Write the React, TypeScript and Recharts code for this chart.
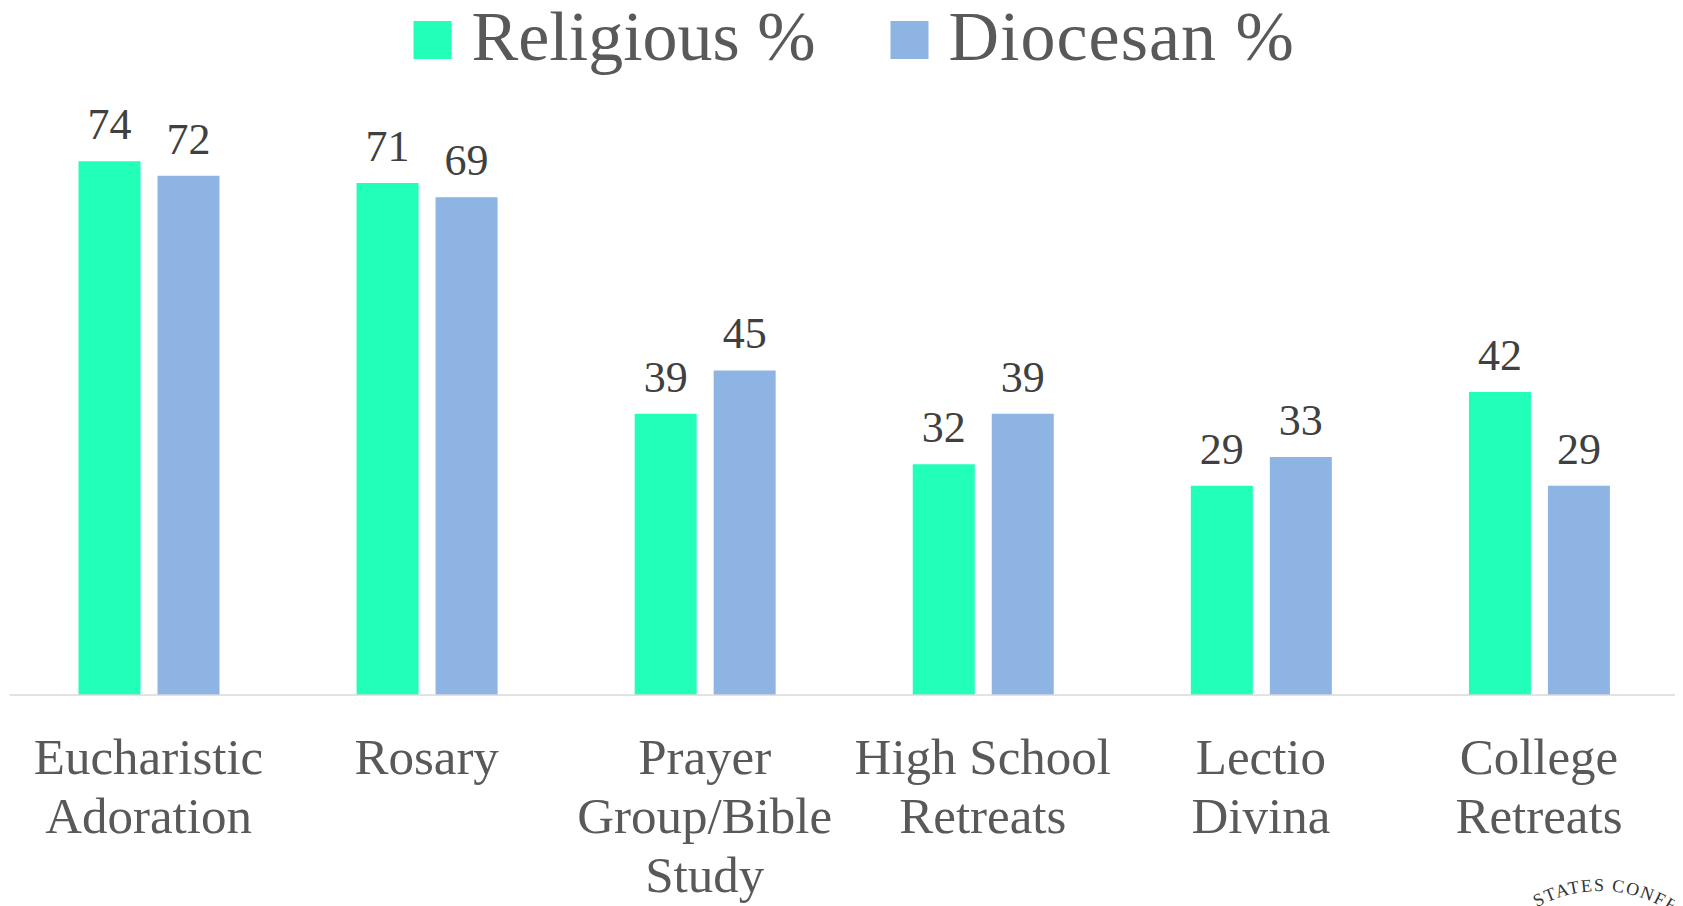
import React from "react";
import { BarChart, Bar, XAxis, YAxis, Legend, LabelList } from "recharts";

const categories = [
  "Eucharistic\nAdoration",
  "Rosary",
  "Prayer\nGroup/Bible\nStudy",
  "High School\nRetreats",
  "Lectio\nDivina",
  "College\nRetreats",
];
const religious = [74, 71, 39, 32, 29, 42];
const diocesan = [72, 69, 45, 39, 33, 29];
const seriesNames = ["Religious %", "Diocesan %"];
const seriesColors = ["#22FFB8", "#8EB4E3"];

const data = categories.map((c, i) => ({
  category: c,
  religious: religious[i],
  diocesan: diocesan[i],
}));

const FONT = "'Liberation Serif', 'Times New Roman', serif";
const W = 1675;
const H = 898;

const CategoryTick = (props: any) => {
  const { x, y, payload } = props;
  const lines = String(payload.value).split("\n");
  return (
    <text x={x} y={y} textAnchor="middle" fill="#595959" fontSize={51} fontFamily={FONT}>
      {lines.map((l, i) => (
        <tspan key={i} x={x} dy={i === 0 ? 79 : 59}>
          {l}
        </tspan>
      ))}
    </text>
  );
};

const LegendContent = () => {
  const squareX = [403.5, 880.5];
  return (
    <svg width={W - 6.5} height={110} style={{ display: "block", overflow: "visible" }}>
      {seriesNames.map((n, i) => (
        <g key={n}>
          <rect x={squareX[i]} y={13} width={38} height={38} fill={seriesColors[i]} />
          <text
            x={squareX[i] + 58}
            y={52}
            fill="#595959"
            fontSize={70}
            fontFamily={FONT}
            letterSpacing={i === 1 ? 1 : 0}
          >
            {n}
          </text>
        </g>
      ))}
    </svg>
  );
};

const Seal = () => {
  const left = 1440;
  const top = 840;
  const cx = 152;
  const cy = 173;
  const r = 130;
  return (
    <svg
      width={W - left}
      height={H - top}
      style={{ position: "absolute", left, top, pointerEvents: "none" }}
    >
      <defs>
        <path id="sealArc" d={`M ${cx - r} ${cy} A ${r} ${r} 0 0 1 ${cx + r} ${cy}`} />
      </defs>
      <text fontSize={18} fontFamily={FONT} fill="#333" letterSpacing={1.5}>
        <textPath href="#sealArc" startOffset={138}>
          STATES CONFE
        </textPath>
      </text>
    </svg>
  );
};

export default function App() {
  return (
    <div style={{ position: "relative", width: W, height: H }}>
      <style>{`body{overflow:hidden}`}</style>
      <BarChart
        width={W}
        height={H}
        data={data}
        margin={{ top: 0, right: 5, left: 1.5, bottom: 0 }}
        barGap={17}
        barSize={62}
      >
        <Legend verticalAlign="top" content={<LegendContent />} />
        <XAxis
          dataKey="category"
          axisLine={{ stroke: "#d9d9d9", strokeWidth: 1.5 }}
          tickLine={false}
          tickSize={0}
          tickMargin={0}
          height={211}
          interval={0}
          tick={<CategoryTick />}
        />
        <YAxis hide domain={[0, 80]} />
        <Bar dataKey="religious" name={seriesNames[0]} fill={seriesColors[0]} isAnimationActive={false}>
          <LabelList dataKey="religious" position="top" offset={22} fill="#404040" fontSize={44} fontFamily={FONT} />
        </Bar>
        <Bar dataKey="diocesan" name={seriesNames[1]} fill={seriesColors[1]} isAnimationActive={false}>
          <LabelList dataKey="diocesan" position="top" offset={22} fill="#404040" fontSize={44} fontFamily={FONT} />
        </Bar>
      </BarChart>
      <Seal />
    </div>
  );
}
